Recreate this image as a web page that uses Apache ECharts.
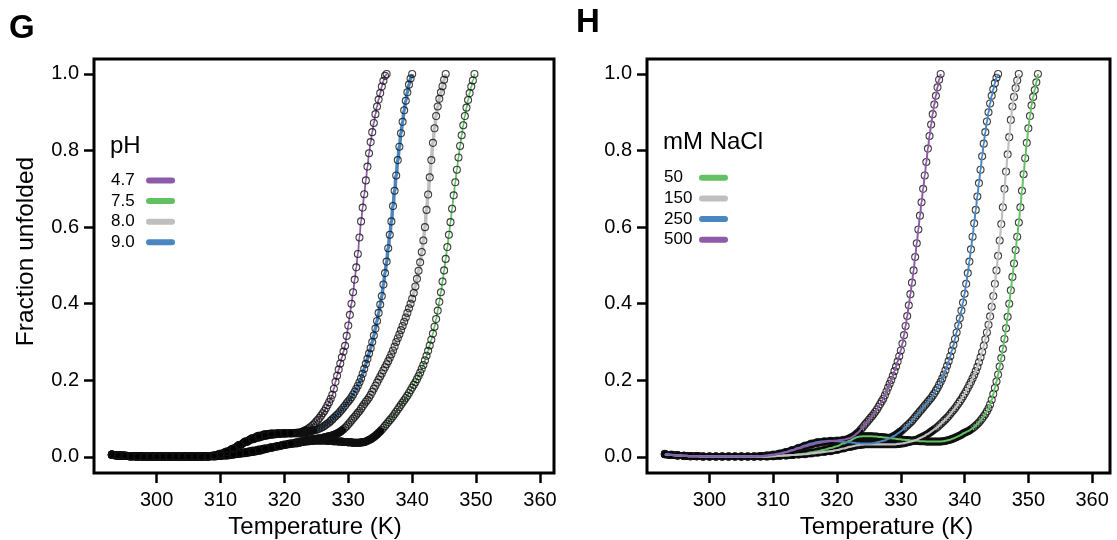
<!DOCTYPE html>
<html><head><meta charset="utf-8">
<script src="https://cdn.jsdelivr.net/npm/echarts@6/dist/echarts.min.js"></script>
<style>html,body{margin:0;padding:0;background:#fff}#c{width:1117px;height:540px}</style>
</head><body><div id="c"></div>
<script>
// Temperature grid (K) shared by all curves
const tempK = [
293,294,295,296,297,298,299,300,301,302,303,304,305,306,307,308,309,310,311,312,313,314,315,316,317,318,319,320,321,322,
322.25,322.5,322.75,323, 323.25,323.5,323.75,324, 324.25,324.5,324.75,325, 325.25,325.5,325.75,326,
326.25,326.5,326.75,327, 327.25,327.5,327.75,328, 328.25,328.5,328.75,329, 329.25,329.5,329.75,330,
330.25,330.5,330.75,331, 331.25,331.5,331.75,332, 332.25,332.5,332.75,333, 333.25,333.5,333.75,334,
334.25,334.5,334.75,335, 335.25,335.5,335.75,336, 336.25,336.5,336.75,337, 337.25,337.5,337.75,338,
338.25,338.5,338.75,339, 339.25,339.5,339.75,340, 340.25,340.5,340.75,341, 341.25,341.5,341.75,342,
342.25,342.5,342.75,343, 343.25,343.5,343.75,344, 344.25,344.5,344.75,345, 345.25,345.5,345.75,346,
346.25,346.5,346.75,347, 347.25,347.5,347.75,348, 348.25,348.5,348.75,349, 349.25,349.5,349.75,350,
350.25,350.5,350.75,351, 351.25,351.5
];

// Panel G: pH series (fraction unfolded)
const gPH47 = [
.006,.004,.003,.002,.002,.001,.001,.001,.001,.001,.001,.001,.001,.001,.001,.002,.003,.007,.013,.021,.031,.041,.049,.055,.059,.061,.062,.062,.062,.063,
.063,.064,.065,.067, .069,.071,.074,.077, .080,.084,.088,.093, .097,.102,.108,.114, .120,.127,.135,.143,
.152,.162,.178,.196, .212,.228,.244,.26, .275,.29,.316,.343, .371,.40,.43,.463, .495,.53,.573,.615,
.651,.686,.722,.758, .793,.822,.848,.872, .895,.915,.933,.95, .967,.982,.995,1.0
];
const gPH75 = [
.006,.004,.003,.002,.001,.001,.001,.001,.001,.001,.001,.001,.001,.001,.001,.001,.002,.003,.005,.007,.010,.013,.016,.019,.022,.025,.028,.031,.034,.036,
.037,.038,.039,.040, .040,.041,.041,.042, .042,.042,.043,.043, .043,.043,.043,.043, .043,.043,.042,.042,
.042,.042,.041,.041, .041,.040,.040,.040, .039,.039,.039,.038, .038,.038,.037,.037, .037,.037,.037,.038,
.038,.039,.040,.042, .044,.046,.049,.052, .055,.059,.063,.067, .071,.076,.081,.086, .091,.096,.101,.106,
.112,.118,.124,.13, .136,.142,.148,.154, .16,.167,.174,.181, .188,.195,.203,.211, .22,.23,.24,.252,
.264,.277,.291,.306, .322,.34,.36,.382, .405,.43,.458,.487, .517,.548,.58,.613, .648,.683,.717,.75,
.782,.812,.84,.866, .89,.912,.932,.95, .967,.983,1.0
];
const gPH80 = [
.006,.004,.003,.002,.002,.001,.001,.001,.001,.001,.001,.001,.001,.001,.001,.001,.002,.003,.004,.006,.008,.010,.013,.016,.020,.024,.028,.032,.035,.038,
.039,.040,.041,.042, .043,.044,.045,.045, .046,.046,.047,.047, .048,.048,.049,.050, .051,.052,.053,.054,
.055,.056,.058,.059, .061,.063,.066,.069, .072,.076,.080,.085, .090,.095,.100,.105, .110,.115,.120,.126,
.132,.138,.144,.149, .155,.162,.17,.178, .186,.194,.202,.21, .218,.226,.234,.242, .25,.259,.268,.278,
.288,.30,.31,.32, .331,.342,.353,.364, .376,.388,.40,.413, .428,.445,.465,.486, .508,.535,.565,.60,
.645,.685,.73,.775, .82,.858,.89,.915, .935,.952,.968,.985, 1.0
];
const gPH90 = [
.005,.004,.003,.002,.001,.001,.001,.001,.001,.001,.001,.001,.001,.001,.001,.002,.004,.008,.014,.022,.031,.039,.046,.051,.055,.058,.060,.061,.062,.062,
.062,.063,.063,.064, .064,.065,.066,.067, .068,.069,.070,.071, .072,.074,.076,.078, .081,.084,.087,.090,
.094,.098,.102,.106, .110,.114,.119,.124, .129,.134,.140,.145, .150,.156,.163,.170, .178,.186,.195,.205,
.217,.23,.243,.256, .27,.284,.30,.317, .335,.355,.376,.398, .42,.45,.48,.51, .545,.58,.615,.655,
.695,.735,.775,.81, .845,.875,.905,.93, .952,.972,.988,1.0
];

// Panel H: NaCl series (fraction unfolded)
const hNa50 = [
.007,.005,.004,.003,.002,.002,.001,.001,.001,.001,.001,.001,.001,.001,.001,.001,.001,.002,.003,.004,.005,.007,.009,.012,.015,.019,.023,.028,.035,.042,
.044,.047,.049,.051, .052,.053,.053,.054, .054,.054,.054,.054, .054,.054,.053,.053, .053,.052,.052,.052,
.051,.051,.050,.050, .049,.049,.048,.048, .047,.047,.046,.046, .045,.045,.044,.044, .044,.043,.043,.043,
.042,.042,.042,.041, .041,.041,.041,.040, .040,.040,.040,.040, .040,.040,.040,.040, .040,.041,.041,.042,
.043,.044,.045,.047, .048,.050,.052,.054, .056,.058,.061,.063, .065,.067,.069,.072, .075,.078,.082,.086,
.090,.095,.10,.106, .112,.119,.127,.137, .149,.164,.18,.197, .215,.236,.258,.282, .308,.336,.366,.40,
.435,.47,.505,.54, .575,.612,.652,.695, .738,.78,.82,.858, .89,.918,.94,.958, .978,1.0
];
const hNa150 = [
.007,.005,.004,.003,.002,.002,.001,.001,.001,.001,.001,.001,.001,.001,.001,.001,.001,.002,.003,.004,.005,.006,.007,.009,.011,.013,.015,.018,.022,.026,
.027,.028,.029,.030, .031,.031,.032,.032, .033,.033,.033,.033, .033,.033,.033,.033, .033,.033,.033,.033,
.033,.033,.033,.033, .033,.033,.033,.033, .033,.034,.034,.035, .035,.036,.037,.038, .039,.040,.041,.042,
.044,.045,.047,.049, .051,.053,.055,.058, .06,.063,.066,.069, .072,.075,.078,.082, .086,.09,.094,.098,
.102,.107,.112,.117, .122,.127,.133,.139, .145,.151,.158,.165, .172,.18,.188,.196, .205,.214,.224,.235,
.247,.26,.274,.29, .307,.325,.345,.367, .392,.42,.452,.487, .525,.565,.608,.652, .70,.745,.79,.835,
.88,.915,.94,.963, .983,1.0
];
const hNa250 = [
.007,.005,.004,.003,.002,.002,.001,.001,.001,.001,.001,.001,.001,.001,.001,.002,.004,.006,.009,.013,.018,.024,.030,.035,.039,.041,.042,.041,.039,.038,
.038,.037,.037,.036, .036,.036,.035,.035, .035,.035,.035,.035, .035,.036,.036,.037, .038,.039,.040,.041,
.042,.043,.045,.047, .049,.051,.053,.055, .058,.061,.064,.067, .070,.074,.078,.082, .086,.090,.094,.099,
.104,.109,.114,.119, .124,.129,.134,.139, .144,.149,.154,.16, .166,.173,.18,.188, .196,.205,.215,.226,
.238,.25,.263,.277, .292,.308,.325,.343, .362,.382,.403,.426, .452,.48,.51,.542, .575,.61,.645,.68,
.715,.75,.785,.818, .848,.876,.90,.923, .943,.96,.976,.99, 1.0
];
const hNa500 = [
.008,.006,.004,.003,.002,.002,.001,.001,.001,.001,.001,.001,.001,.001,.001,.002,.003,.005,.008,.012,.017,.022,.027,.032,.036,.039,.041,.043,.045,.049,
.051,.053,.056,.06, .063,.067,.072,.077, .082,.087,.092,.097, .102,.107,.112,.118, .124,.131,.138,.145,
.152,.161,.171,.181, .191,.201,.212,.224, .236,.249,.263,.278, .296,.318,.342,.368, .396,.425,.455,.487,
.522,.558,.594,.63, .665,.70,.735,.77, .805,.838,.868,.895, .92,.943,.965,.985, 1.0
];

const xTicks = [300, 310, 320, 330, 340, 350, 360];
const yTicks = [0, 0.2, 0.4, 0.6, 0.8, 1.0];
const gNames = ['4.7', '7.5', '8.0', '9.0'];
const hNames = ['50', '150', '250', '500'];

const F = '"Liberation Sans", Arial, Helvetica, sans-serif';
const PURPLE = '#8e5ba8', GREEN = '#63c163', GRAY = '#bfbfbf', BLUE = '#4a86c0';

function pairs(vals) { return vals.map((v, i) => [tempK[i], v]); }
function lowPart(vals) {
  const out = [];
  for (let i = 0; i < vals.length; i++) { if (vals[i] >= 0.07) break; out.push([tempK[i], vals[i]]); }
  return out;
}
function curve(name, vals, color, lw, idx) {
  const g = idx === 0;
  const d = pairs(vals);
  return [
    { type: 'line', name: name + ' band', xAxisIndex: idx, yAxisIndex: idx, data: lowPart(vals),
      symbol: 'none', smooth: true, smoothMonotone: 'x', silent: true,
      lineStyle: { color: '#000', width: g ? 8 : 7, cap: 'round', join: 'round' }, z: g ? 2 : 1 },
    { type: 'scatter', name: name + ' points', xAxisIndex: idx, yAxisIndex: idx, data: d,
      symbol: 'circle', symbolSize: 7, silent: true,
      itemStyle: { color: 'rgba(0,0,0,0)', borderColor: '#111', borderWidth: 1.1 }, z: g ? 3 : 2 },
    { type: 'line', name: name, xAxisIndex: idx, yAxisIndex: idx, data: d,
      symbol: 'none', smooth: true, smoothMonotone: 'x',
      lineStyle: { color: color, width: lw }, itemStyle: { color: color }, z: g ? 1 : 3 }
  ];
}

const series = [].concat(
  curve(gNames[0], gPH47, PURPLE, 1.8, 0),
  curve(gNames[1], gPH75, GREEN, 1.8, 0),
  curve(gNames[2], gPH80, GRAY, 3.5, 0),
  curve(gNames[3], gPH90, BLUE, 3.5, 0),
  curve(hNames[0], hNa50, GREEN, 2, 1),
  curve(hNames[1], hNa150, GRAY, 2.2, 1),
  curve(hNames[2], hNa250, BLUE, 2, 1),
  curve(hNames[3], hNa500, PURPLE, 2, 1)
);

const capsule = 'path://M3,0 L26,0 A3,3 0 0 1 26,6 L3,6 A3,3 0 0 1 3,0 Z';
function legendCfg(names, left, top, gap) {
  return {
    data: names, left: left, top: top, orient: 'vertical', align: 'right', icon: capsule,
    itemWidth: 29, itemHeight: 6, itemGap: gap, padding: 0, selectedMode: false,
    itemStyle: { borderWidth: 0 },
    formatter: n => '{a|' + n + '}',
    textStyle: { color: '#000', fontSize: 17, fontFamily: F,
      rich: { a: { width: 30, fontSize: 17, lineHeight: 17, fontFamily: F, color: '#000', align: 'left' } } }
  };
}
function xAxisCfg(idx, max, pad) {
  return {
    gridIndex: idx, type: 'value', min: 290.2, max: max,
    axisLine: { show: false, onZero: false },
    axisTick: { show: true, inside: false, customValues: xTicks, length: 10, lineStyle: { color: '#000', width: 2.5 } },
    axisLabel: { inside: false, customValues: xTicks, margin: 17, fontSize: 20, color: '#000', fontFamily: F },
    splitLine: { show: false },
    name: 'Temperature (K)', nameLocation: 'middle', nameGap: 38,
    nameTextStyle: { fontSize: 24, color: '#000', fontFamily: F, padding: pad }
  };
}
function yAxisCfg(idx, withName) {
  const a = {
    gridIndex: idx, type: 'value', min: -0.042, max: 1.039,
    axisLine: { show: false, onZero: false },
    axisTick: { show: true, inside: false, customValues: yTicks, length: 10, lineStyle: { color: '#000', width: 2.5 } },
    axisLabel: { inside: false, customValues: yTicks, formatter: v => v.toFixed(1), margin: 15, fontSize: 20, color: '#000', fontFamily: F },
    splitLine: { show: false }
  };
  if (withName) {
    a.name = 'Fraction unfolded'; a.nameLocation = 'middle'; a.nameGap = 55;
    a.nameTextStyle = { fontSize: 24.5, color: '#000', fontFamily: F, padding: [0, 0, 0, 29] };
  }
  return a;
}

const chart = echarts.init(document.getElementById('c'), null, { renderer: 'canvas' });
chart.setOption({
  animation: false,
  backgroundColor: '#fff',
  title: [
    { text: 'G', left: 9, top: 12.5, padding: 0, textStyle: { fontSize: 33, fontWeight: 'bold', fontFamily: F, color: '#000' } },
    { text: 'H', left: 576, top: 6.7, padding: 0, textStyle: { fontSize: 33, fontWeight: 'bold', fontFamily: F, color: '#000' } },
    { text: 'pH', left: 110, top: 134.6, padding: 0, textStyle: { fontSize: 24, fontWeight: 'normal', fontFamily: F, color: '#000' } },
    { text: 'mM NaCl', left: 663, top: 130.6, padding: 0, textStyle: { fontSize: 24, fontWeight: 'normal', fontFamily: F, color: '#000' } }
  ],
  legend: [ legendCfg(gNames, 111, 172, 3.6), legendCfg(hNames, 664, 169.2, 3.7) ],
  grid: [
    { left: 94, top: 59, width: 460, height: 414, show: true, borderColor: '#000', borderWidth: 3, backgroundColor: 'transparent', outerBoundsMode: 'none', containLabel: false },
    { left: 647, top: 59, width: 463, height: 414, show: true, borderColor: '#000', borderWidth: 3, backgroundColor: 'transparent', outerBoundsMode: 'none', containLabel: false }
  ],
  xAxis: [ xAxisCfg(0, 362.2, [0, 18, 0, 0]), xAxisCfg(1, 362.8, [0, 0, 0, 16]) ],
  yAxis: [ yAxisCfg(0, true), yAxisCfg(1, false) ],
  series: series
});
</script>
</body></html>
